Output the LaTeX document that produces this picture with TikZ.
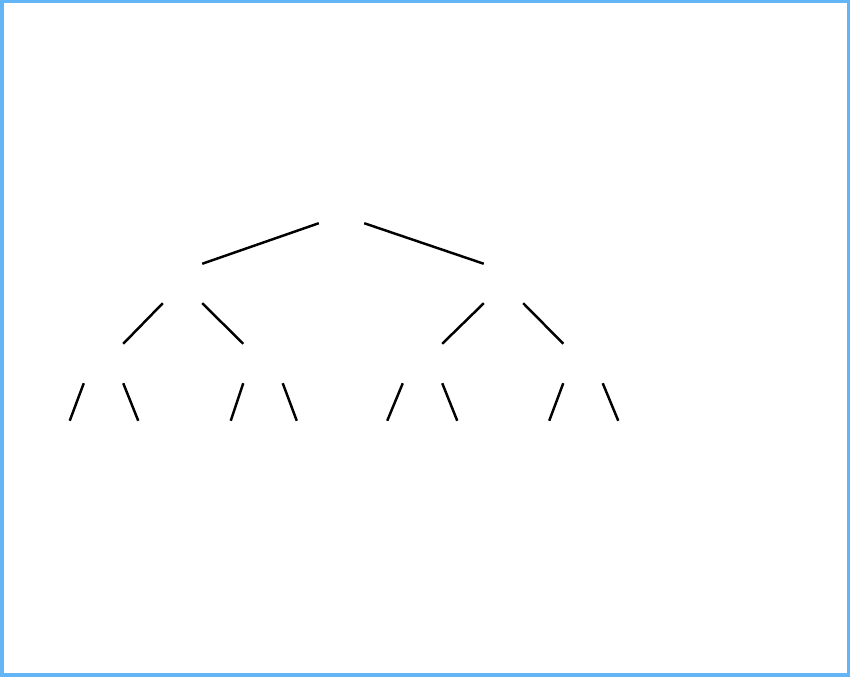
\documentclass[tikz,border=0pt]{standalone}
\usepackage{tikz}
\definecolor{frameblue}{RGB}{100,181,246}
\begin{document}
\begin{tikzpicture}[line width=1.4pt]
	\tikzset{blank/.style={minimum width=0.74cm, minimum height=0.74cm, inner sep=0pt}}
	%frame--------------------------------------
	\useasboundingbox (0,0) rectangle (17,13.54);
	\draw[frameblue, line width=0.07cm] (0.035,0.035) rectangle (16.965,13.505); %border
	%nodes--------------------------------------
	\node[blank, minimum width=0.86cm] (root) at (6.83,9.47) {}; %root
	\node[blank] (l) at (3.65,7.87) {}; %left
	\node[blank] (r) at (10.07,7.87) {}; %right
	\node[blank] (ll) at (2.07,6.27) {};
	\node[blank] (lr) at (5.26,6.27) {};
	\node[blank] (rl) at (8.45,6.27) {};
	\node[blank] (rr) at (11.66,6.27) {};
	\node[blank] (lll) at (1.00,4.73) {}; %leaves
	\node[blank] (llr) at (3.16,4.73) {};
	\node[blank] (lrl) at (4.22,4.73) {};
	\node[blank] (lrr) at (6.33,4.73) {};
	\node[blank] (rll) at (7.35,4.73) {};
	\node[blank] (rlr) at (9.54,4.73) {};
	\node[blank] (rrl) at (10.59,4.73) {};
	\node[blank] (rrr) at (12.76,4.73) {};
	%edges--------------------------------------
		\draw (root.south west) -- (l.north east);
		\draw (root.south east) -- (r.north west);
		\draw (l.south west) -- (ll.north east);
		\draw (l.south east) -- (lr.north west);
		\draw (r.south west) -- (rl.north east);
		\draw (r.south east) -- (rr.north west);
		\draw (ll.south west) -- (lll.north east);
		\draw (ll.south east) -- (llr.north west);
		\draw (lr.south west) -- (lrl.north east);
		\draw (lr.south east) -- (lrr.north west);
		\draw (rl.south west) -- (rll.north east);
		\draw (rl.south east) -- (rlr.north west);
		\draw (rr.south west) -- (rrl.north east);
		\draw (rr.south east) -- (rrr.north west);
\end{tikzpicture}
\end{document}
